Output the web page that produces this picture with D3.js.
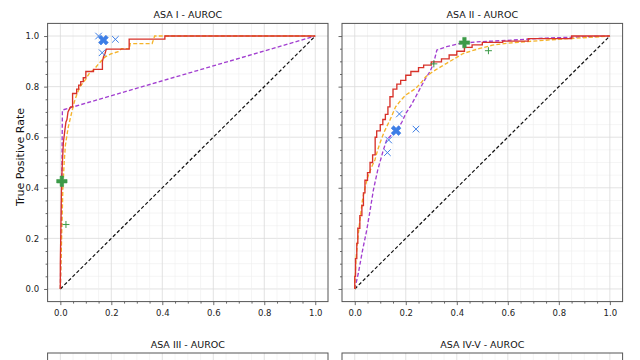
<!DOCTYPE html>
<html><head><meta charset="utf-8">
<script src="https://cdn.jsdelivr.net/npm/d3@7"></script>
<style>html,body{margin:0;padding:0;background:#fff;}svg{display:block;font-family:"DejaVu Sans",sans-serif;}</style>
</head><body><svg id="c" width="640" height="360"></svg>
<script>
// ---- data ----
const panelTitles = ["ASA I - AUROC", "ASA II - AUROC", "ASA III - AUROC", "ASA IV-V - AUROC"];
const tickValues = [0, 0.2, 0.4, 0.6, 0.8, 1.0];
const yLabel = "True Positive Rate";

const asa1Red = [[0,0],[0,0.1],[0.003,0.3],[0.005,0.43],[0.008,0.5],[0.012,0.58],[0.018,0.63],[0.022,0.66],[0.026,0.67],[0.03,0.7],[0.035,0.71],[0.04,0.72],[0.048,0.72],[0.048,0.773],[0.064,0.773],[0.064,0.79],[0.072,0.79],[0.072,0.806],[0.08,0.806],[0.08,0.82],[0.09,0.82],[0.09,0.835],[0.1,0.835],[0.1,0.86],[0.13,0.86],[0.13,0.868],[0.165,0.868],[0.165,0.9],[0.17,0.92],[0.175,0.93],[0.18,0.948],[0.27,0.948],[0.27,0.988],[0.41,0.988],[0.41,1],[1,1]];
const asa1Orange = [[0,0],[0.005,0.2],[0.01,0.4],[0.015,0.5],[0.02,0.57],[0.031,0.64],[0.045,0.7],[0.055,0.74],[0.065,0.77],[0.077,0.8],[0.1,0.83],[0.115,0.855],[0.13,0.865],[0.15,0.89],[0.175,0.917],[0.2,0.93],[0.227,0.938],[0.24,0.95],[0.273,0.95],[0.273,0.97],[0.36,0.97],[0.37,1],[1,1]];
const asa1Purple = [[0,0],[0.005,0.3],[0.008,0.705],[0.01,0.708],[1,1]];
const asa1XBold = [[0.169,0.984]];
const asa1XThin = [[0.15,1.0],[0.216,0.987],[0.164,0.934]];
const asa1PlusBold = [[0.006,0.426]];
const asa1PlusThin = [[0.022,0.255]];

const asa2Red = [[0,0],[0,0.05],[0.003,0.05],[0.003,0.12],[0.008,0.12],[0.008,0.18],[0.012,0.18],[0.012,0.24],[0.02,0.24],[0.02,0.29],[0.028,0.29],[0.028,0.33],[0.034,0.33],[0.034,0.38],[0.04,0.38],[0.04,0.43],[0.05,0.43],[0.05,0.46],[0.06,0.46],[0.06,0.5],[0.07,0.5],[0.07,0.53],[0.08,0.53],[0.08,0.6],[0.086,0.6],[0.086,0.625],[0.1,0.625],[0.1,0.65],[0.11,0.65],[0.11,0.67],[0.12,0.67],[0.12,0.69],[0.13,0.69],[0.13,0.72],[0.138,0.72],[0.138,0.76],[0.15,0.76],[0.15,0.79],[0.165,0.79],[0.165,0.81],[0.18,0.81],[0.18,0.825],[0.2,0.825],[0.2,0.845],[0.22,0.845],[0.22,0.86],[0.25,0.86],[0.25,0.875],[0.27,0.875],[0.27,0.885],[0.3,0.885],[0.3,0.898],[0.34,0.898],[0.34,0.91],[0.37,0.91],[0.37,0.925],[0.4,0.925],[0.4,0.94],[0.43,0.94],[0.43,0.955],[0.46,0.955],[0.46,0.965],[0.5,0.965],[0.5,0.975],[0.58,0.975],[0.58,0.98],[0.68,0.98],[0.68,0.99],[0.85,0.99],[0.85,1],[1,1]];
const asa2Orange = [[0,0],[0.005,0.12],[0.012,0.2],[0.02,0.27],[0.03,0.35],[0.04,0.4],[0.05,0.44],[0.065,0.48],[0.079,0.51],[0.09,0.55],[0.1,0.58],[0.115,0.62],[0.138,0.668],[0.16,0.72],[0.18,0.745],[0.2,0.767],[0.22,0.78],[0.239,0.793],[0.26,0.815],[0.278,0.839],[0.3,0.855],[0.317,0.866],[0.34,0.88],[0.36,0.892],[0.39,0.91],[0.425,0.931],[0.46,0.942],[0.49,0.951],[0.54,0.964],[0.6,0.972],[0.7,0.98],[0.84,0.99],[1,1]];
const asa2Purple = [[0,0],[0.014,0.062],[0.03,0.15],[0.047,0.233],[0.06,0.31],[0.073,0.391],[0.09,0.47],[0.112,0.549],[0.125,0.589],[0.145,0.61],[0.165,0.628],[0.185,0.66],[0.2,0.694],[0.22,0.725],[0.239,0.76],[0.26,0.8],[0.278,0.833],[0.295,0.86],[0.309,0.892],[0.322,0.945],[0.36,0.958],[0.41,0.97],[0.48,0.977],[0.6,0.983],[0.75,0.992],[1,1]];
const asa2XBold = [[0.162,0.626]];
const asa2XThin = [[0.175,0.692],[0.24,0.632],[0.133,0.589],[0.128,0.539]];
const asa2PlusBold = [[0.43,0.974]];
const asa2PlusThin = [[0.31,0.89],[0.524,0.942]];

const panels = [
  {title: panelTitles[0], red: asa1Red, orange: asa1Orange, purple: asa1Purple, xb: asa1XBold, xt: asa1XThin, pb: asa1PlusBold, pt: asa1PlusThin, yLabels: true},
  {title: panelTitles[1], red: asa2Red, orange: asa2Orange, purple: asa2Purple, xb: asa2XBold, xt: asa2XThin, pb: asa2PlusBold, pt: asa2PlusThin, yLabels: false},
  {title: panelTitles[2], hidden: true},
  {title: panelTitles[3], hidden: true}
];

// ---- layout ----
const svg = d3.select("#c");
const boxes = [
  {x0: 47.6, x1: 328, y0: 23.4, y1: 301.6},
  {x0: 342, x1: 622.6, y0: 23.4, y1: 301.6},
  {x0: 47.6, x1: 328, y0: 353, y1: 631},
  {x0: 342, x1: 622.6, y0: 353, y1: 631}
];
const C = {red: "#d8322a", orange: "#f5b42a", purple: "#a23fd0", blue: "#3d7ee6", green: "#3c9a48", diag: "#111"};
const LW = 1.35;
const minorVals = d3.range(0, 21).map(i => i * 0.05).filter(v => Math.abs(v * 5 - Math.round(v * 5)) > 1e-6);
const minorAll = d3.range(-1, 22).map(i => i * 0.05).filter(v => v > -0.05 && v < 1.05);

panels.forEach((p, i) => {
  const b = boxes[i];
  const x = d3.scaleLinear().domain([-0.05, 1.05]).range([b.x0, b.x1]);
  const y = d3.scaleLinear().domain([-0.05, 1.05]).range([b.y1, b.y0]);
  const g = svg.append("g");
  const clipId = "clip" + i;
  svg.append("clipPath").attr("id", clipId).append("rect")
    .attr("x", b.x0).attr("y", b.y0).attr("width", b.x1 - b.x0).attr("height", b.y1 - b.y0);

  const grid = g.append("g");
  minorAll.forEach(v => {
    const major = tickValues.some(t => Math.abs(t - v) < 1e-6);
    const col = major ? "#dadada" : "#efefef";
    const w = major ? 0.8 : 0.6;
    grid.append("line").attr("x1", x(v)).attr("x2", x(v)).attr("y1", b.y0).attr("y2", Math.min(b.y1, 360))
      .attr("stroke", col).attr("stroke-width", w);
    if (y(v) < 360) grid.append("line").attr("y1", y(v)).attr("y2", y(v)).attr("x1", b.x0).attr("x2", b.x1)
      .attr("stroke", col).attr("stroke-width", w);
  });

  if (!p.hidden) {
    const xAxis = d3.axisBottom(x).tickValues(tickValues).tickFormat(d3.format(".1f")).tickSize(3.5).tickPadding(5);
    const yAxis = d3.axisLeft(y).tickValues(tickValues).tickFormat(p.yLabels ? d3.format(".1f") : "").tickSize(3.5).tickPadding(5);
    const xMinor = d3.axisBottom(x).tickValues(minorVals).tickFormat("").tickSize(2);
    const yMinor = d3.axisLeft(y).tickValues(minorVals).tickFormat("").tickSize(2);
    [[xAxis, "b"], [yAxis, "l"], [xMinor, "b"], [yMinor, "l"]].forEach(([ax, s]) => {
      const a = g.append("g").attr("transform", s === "b" ? `translate(0,${b.y1})` : `translate(${b.x0},0)`).call(ax);
      a.select(".domain").remove();
      a.selectAll("line").attr("stroke", "#444").attr("stroke-width", 0.8);
      a.selectAll("text").attr("fill", "#222").style("font-size", "8.5px").style("font-family", "DejaVu Sans");
      a.selectAll("text").filter(function () { return !this.textContent; }).remove();
    });
  }

  svg.append("text").attr("x", (b.x0 + b.x1) / 2).attr("y", b.y0 - 5).attr("text-anchor", "middle")
    .style("font-size", "9.5px").attr("fill", "#111").text(p.title);

  const plot = g.append("g").attr("clip-path", `url(#${clipId})`);
  const line = d3.line().x(d => x(d[0])).y(d => y(d[1]));

  if (p.red) {
    plot.append("path").datum([[0, 0], [1, 1]]).attr("d", line).attr("fill", "none")
      .attr("stroke", C.diag).attr("stroke-width", 1.2).attr("stroke-dasharray", "3.5,2.2");
    plot.append("path").datum(p.purple).attr("d", line).attr("fill", "none")
      .attr("stroke", C.purple).attr("stroke-width", LW).attr("stroke-dasharray", "4,2.2");
    plot.append("path").datum(p.orange).attr("d", line).attr("fill", "none")
      .attr("stroke", C.orange).attr("stroke-width", LW).attr("stroke-dasharray", "4,2.2");
    plot.append("path").datum(p.red).attr("d", line).attr("fill", "none")
      .attr("stroke", C.red).attr("stroke-width", LW);

    const s = 3.3;
    p.xt.forEach(d => {
      plot.append("path").attr("d", `M${x(d[0]) - s},${y(d[1]) - s}L${x(d[0]) + s},${y(d[1]) + s}M${x(d[0]) - s},${y(d[1]) + s}L${x(d[0]) + s},${y(d[1]) - s}`)
        .attr("stroke", C.blue).attr("stroke-width", 1).attr("fill", "none");
    });
    const q = 3.5;
    p.pt.forEach(d => {
      plot.append("path").attr("d", `M${x(d[0]) - q},${y(d[1])}L${x(d[0]) + q},${y(d[1])}M${x(d[0])},${y(d[1]) - q}L${x(d[0])},${y(d[1]) + q}`)
        .attr("stroke", C.green).attr("stroke-width", 1).attr("fill", "none");
    });
    p.xb.forEach(d => {
      plot.append("path").attr("d", d3.symbol(d3.symbolCross, 60)()).attr("transform", `translate(${x(d[0])},${y(d[1])}) rotate(45)`)
        .attr("fill", C.blue).attr("stroke", C.blue).attr("stroke-width", 0.6);
    });
    p.pb.forEach(d => {
      plot.append("path").attr("d", d3.symbol(d3.symbolCross, 60)()).attr("transform", `translate(${x(d[0])},${y(d[1])})`)
        .attr("fill", C.green).attr("stroke", C.green).attr("stroke-width", 0.6);
    });
  }

  g.append("rect").attr("x", b.x0).attr("y", b.y0).attr("width", b.x1 - b.x0).attr("height", b.y1 - b.y0)
    .attr("fill", "none").attr("stroke", "#555").attr("stroke-width", 1);
});

svg.append("text").attr("transform", "translate(20,157) rotate(-90)").attr("text-anchor", "middle")
  .attr("dominant-baseline", "central").style("font-size", "11px").attr("fill", "#111").text(yLabel);
</script></body></html>
